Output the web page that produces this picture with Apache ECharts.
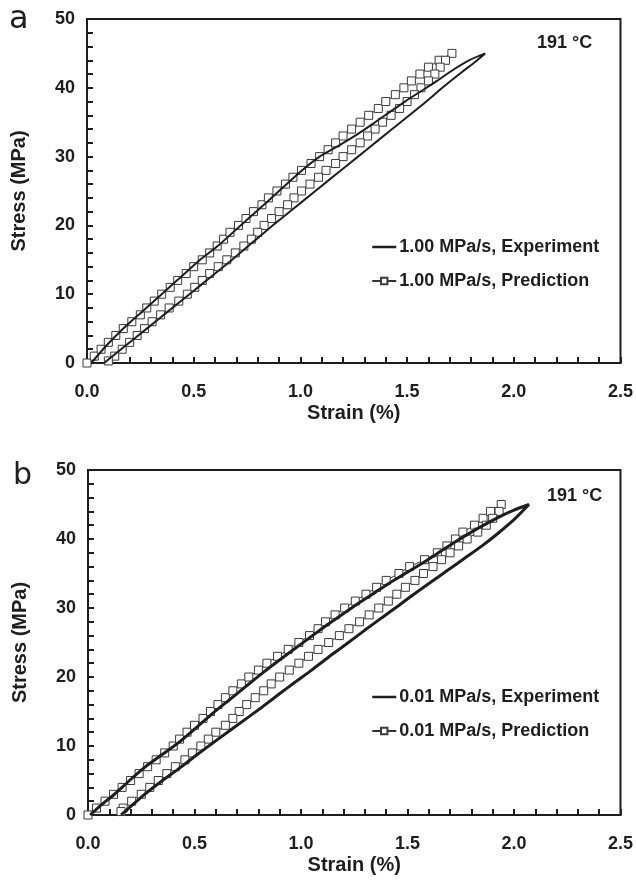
<!DOCTYPE html>
<html>
<head>
<meta charset="utf-8">
<script src="https://cdn.jsdelivr.net/npm/echarts@6/dist/echarts.min.js"></script>
<style>
html,body{margin:0;padding:0;background:#fff;}
#chart{width:636px;height:885px;}
</style>
</head>
<body>
<div id="chart"></div>
<script>
// ---------- Data (strain %, stress MPa) ----------
const xTickLabels = ['0.0', '0.5', '1.0', '1.5', '2.0', '2.5'];
const yTickLabels = ['0', '10', '20', '30', '40', '50'];

const panelLabels = ['a', 'b'];
const tempLabels = ['191 \u00B0C', '191 \u00B0C'];
const seriesNamesA = ['1.00 MPa/s, Experiment', '1.00 MPa/s, Prediction'];
const seriesNamesB = ['0.01 MPa/s, Experiment', '0.01 MPa/s, Prediction'];

// Panel a, experiment: lower branch up to peak, then upper branch back down
const expA = [
  [0.08,0],[0.18,2.5],[0.28,5],[0.38,7.5],[0.48,10],[0.58,12.5],[0.68,15],[0.775,17.5],
  [0.87,20],[0.97,22.5],[1.07,25],[1.17,27.5],[1.27,30],[1.37,32.5],[1.47,35],[1.57,37.5],
  [1.665,40],[1.72,41.4],[1.77,42.6],[1.82,43.8],[1.866,45],
  [1.79,44.0],[1.72,42.7],[1.64,41.0],[1.56,39.4],[1.49,38.0],[1.42,36.5],[1.35,35.0],
  [1.27,33.3],[1.18,31.6],[1.09,30],[1.0,27.8],[0.90,25],[0.80,22.2],[0.72,20],[0.62,17.2],
  [0.53,15],[0.44,12.5],[0.35,10],[0.26,7.5],[0.17,5],[0.09,2.5],[0.02,0]
];

// Panel a, prediction: upper branch up, lower branch down
const predA = [
  [0.0,0],[0.034,1],[0.066,2],[0.10,3],[0.135,4],[0.17,5],[0.21,6],[0.25,7],[0.28,8],[0.315,9],
  [0.35,10],[0.39,11],[0.425,12],[0.465,13],[0.50,14],[0.54,15],[0.575,16],[0.61,17],[0.64,18],
  [0.67,19],[0.71,20],[0.745,21],[0.78,22],[0.82,23],[0.85,24],[0.89,25],[0.93,26],[0.965,27],
  [1.005,28],[1.05,29],[1.09,30],[1.13,31],[1.165,32],[1.20,33],[1.24,34],[1.28,35],[1.32,36],
  [1.365,37],[1.40,38],[1.445,39],[1.485,40],[1.52,41],[1.56,42],[1.60,43],[1.65,44],[1.71,45],
  [1.68,44],[1.655,43],[1.63,42],[1.60,41],[1.565,40],[1.535,39],[1.50,38],[1.465,37],[1.425,36],
  [1.385,35],[1.35,34],[1.315,33],[1.28,32],[1.24,31],[1.20,30],[1.165,29],[1.12,28],[1.085,27],
  [1.045,26],[1.005,25],[0.97,24],[0.94,23],[0.90,22],[0.865,21],[0.83,20],[0.80,19],[0.77,18],
  [0.735,17],[0.695,16],[0.655,15],[0.615,14],[0.575,13],[0.54,12],[0.505,11],[0.47,10],
  [0.43,9],[0.385,8],[0.345,7],[0.305,6],[0.27,5],[0.235,4],[0.20,3],[0.165,2],[0.13,1],[0.10,0.3]
];

// Panel b, experiment
const expB = [
  [0.155,0],[0.21,1.5],[0.27,3.1],[0.35,5],[0.43,6.8],[0.51,8.7],[0.584,10.4],[0.66,12.1],
  [0.74,13.9],[0.82,15.7],[0.896,17.5],[0.97,19.2],[1.05,21.0],[1.13,22.9],[1.21,24.7],
  [1.30,26.8],[1.38,28.6],[1.456,30.3],[1.53,32],[1.612,33.8],[1.69,35.5],[1.768,37.2],
  [1.85,39],[1.924,40.8],[2.0,42.8],[2.07,45],
  [2.0,44.2],[1.95,43.5],[1.875,42.3],[1.80,41.0],[1.725,39.6],[1.65,38.1],[1.575,36.6],
  [1.50,35.2],[1.425,33.8],[1.35,32.3],[1.275,30.8],[1.2,29.2],[1.125,27.6],[1.05,25.9],
  [0.975,24.2],[0.896,22.4],[0.82,20.6],[0.74,18.6],[0.66,16.6],[0.584,14.7],[0.51,12.7],
  [0.43,10.6],[0.35,8.8],[0.27,7.0],[0.195,5.0],[0.12,2.9],[0.06,1.4],[0.01,0]
];

// Panel b, prediction
const predB = [
  [0.0,0],[0.04,1],[0.08,2],[0.12,3],[0.16,4],[0.20,5],[0.24,6],[0.28,7],[0.32,8],[0.36,9],
  [0.40,10],[0.43,11],[0.465,12],[0.50,13],[0.54,14],[0.575,15],[0.61,16],[0.645,17],[0.68,18],
  [0.72,19],[0.755,20],[0.80,21],[0.84,22],[0.89,23],[0.94,24],[0.99,25],[1.04,26],[1.08,27],
  [1.115,28],[1.16,29],[1.205,30],[1.255,31],[1.305,32],[1.355,33],[1.40,34],[1.46,35],[1.51,36],
  [1.58,37],[1.64,38],[1.685,39],[1.725,40],[1.76,41],[1.815,42],[1.855,43],[1.89,44],[1.94,45],
  [1.93,44],[1.90,43],[1.87,42],[1.83,41],[1.78,40],[1.74,39],[1.70,38],[1.66,37],[1.62,36],
  [1.575,35],[1.535,34],[1.49,33],[1.45,32],[1.41,31],[1.365,30],[1.32,29],[1.275,28],[1.225,27],
  [1.18,26],[1.13,25],[1.08,24],[1.035,23],[0.99,22],[0.945,21],[0.90,20],[0.86,19],[0.825,18],
  [0.785,17],[0.745,16],[0.71,15],[0.68,14],[0.645,13],[0.60,12],[0.565,11],[0.53,10],[0.49,9],
  [0.455,8],[0.41,7],[0.37,6],[0.33,5],[0.29,4],[0.25,3],[0.205,2],[0.165,1],[0.155,0.5]
];

// ---------- Chart ----------
const FONT = 'Liberation Sans, Arial, sans-serif';
const INK = '#1e1e1e';

function xAxisFor(i) {
  return {
    gridIndex: i, type: 'value', min: 0, max: 2.5, interval: 0.5,
    axisLine: { show: true, onZero: false, lineStyle: { color: INK, width: 2 } },
    axisTick: { show: true, inside: true, length: 6, lineStyle: { color: INK, width: 2 } },
    minorTick: { show: true, splitNumber: 5, length: 6, lineStyle: { color: INK, width: 2 } },
    splitLine: { show: false }, minorSplitLine: { show: false },
    axisLabel: {
      fontFamily: FONT, fontSize: 18, fontWeight: 'bold', color: INK, margin: 20,
      formatter: function (v) { return xTickLabels[Math.round(v / 0.5)]; }
    },
    name: 'Strain (%)', nameLocation: 'middle', nameGap: 40,
    nameTextStyle: { fontFamily: FONT, fontSize: 20, fontWeight: 'bold', color: INK }
  };
}
function yAxisFor(i) {
  return {
    gridIndex: i, type: 'value', min: 0, max: 50, interval: 10,
    axisLine: { show: true, onZero: false, lineStyle: { color: INK, width: 2 } },
    axisTick: { show: true, inside: true, length: 6, lineStyle: { color: INK, width: 2 } },
    minorTick: { show: true, splitNumber: 5, length: 6, lineStyle: { color: INK, width: 2 } },
    splitLine: { show: false }, minorSplitLine: { show: false },
    axisLabel: {
      fontFamily: FONT, fontSize: 18, fontWeight: 'bold', color: INK, margin: 12,
      formatter: function (v) { return yTickLabels[Math.round(v / 10)]; }
    },
    name: 'Stress (MPa)', nameLocation: 'middle', nameGap: 58, nameRotate: 90,
    nameTextStyle: { fontFamily: FONT, fontSize: 20, fontWeight: 'bold', color: INK }
  };
}
function expSeries(name, data, i, w) {
  return {
    name: name, type: 'line', xAxisIndex: i, yAxisIndex: i, data: data,
    symbol: 'none', smooth: 0.2, z: 4,
    lineStyle: { color: INK, width: w }, itemStyle: { color: INK }
  };
}
function predSeries(name, data, i) {
  return {
    name: name, type: 'line', xAxisIndex: i, yAxisIndex: i, data: data,
    symbol: 'rect', symbolSize: 8, showAllSymbol: true, z: 3,
    lineStyle: { color: '#333', width: 1 },
    itemStyle: { color: '#fff', borderColor: '#3a3a3a', borderWidth: 1 }
  };
}
function legendFor(names, top) {
  return {
    data: [
      { name: names[0], itemStyle: { opacity: 0 }, lineStyle: { width: 2.5, color: INK } },
      { name: names[1] }
    ],
    orient: 'vertical', left: 366, top: top, itemGap: 16,
    itemWidth: 24, itemHeight: 8, selectedMode: false,
    textStyle: { fontFamily: FONT, fontSize: 18, fontWeight: 'bold', color: INK, padding: [0, 0, 0, -2] }
  };
}

const chart = echarts.init(document.getElementById('chart'), null, { renderer: 'canvas' });
chart.setOption({
  animation: false,
  backgroundColor: '#fff',
  grid: [
    { left: 87, top: 19, width: 535, height: 344, show: true, borderColor: INK, borderWidth: 2, backgroundColor: 'transparent' },
    { left: 88, top: 470, width: 535, height: 345, show: true, borderColor: INK, borderWidth: 2, backgroundColor: 'transparent' }
  ],
  xAxis: [xAxisFor(0), xAxisFor(1)],
  yAxis: [yAxisFor(0), yAxisFor(1)],
  legend: [legendFor(seriesNamesA, 233), legendFor(seriesNamesB, 683)],
  series: [
    predSeries(seriesNamesA[1], predA, 0),
    expSeries(seriesNamesA[0], expA, 0, 2),
    predSeries(seriesNamesB[1], predB, 1),
    expSeries(seriesNamesB[0], expB, 1, 3)
  ],
  graphic: [
    { type: 'text', left: 9, top: 4, style: { text: panelLabels[0], font: '32px "DejaVu Sans", sans-serif', fill: INK } },
    { type: 'text', left: 13, top: 461, style: { text: panelLabels[1], font: '30px "DejaVu Sans", sans-serif', fill: INK } },
    { type: 'text', left: 537, top: 34, style: { text: tempLabels[0], font: 'bold 18px ' + FONT, fill: INK } },
    { type: 'text', left: 547, top: 487, style: { text: tempLabels[1], font: 'bold 18px ' + FONT, fill: INK } }
  ]
});
</script>
</body>
</html>
